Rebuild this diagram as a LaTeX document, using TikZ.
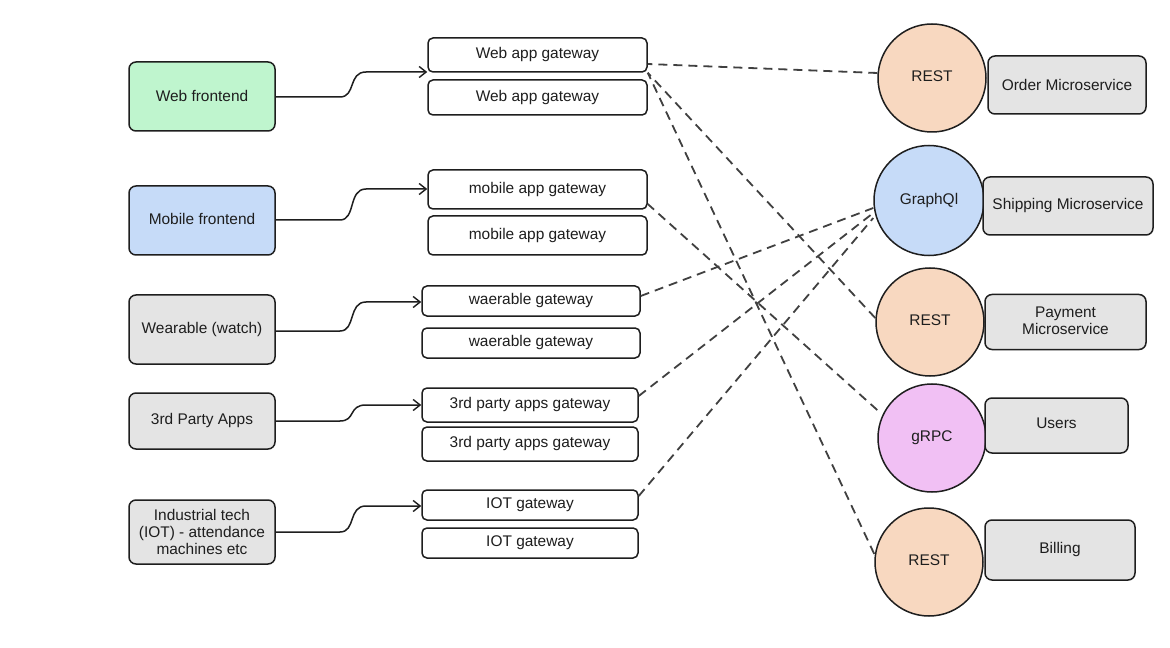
\documentclass[tikz,border=0pt]{standalone}
\usepackage{fontspec}
\setmainfont{Liberation Sans}
\usetikzlibrary{arrows.meta,calc}
\definecolor{ink}{HTML}{1E1E1E}
\definecolor{cgreen}{HTML}{BFF5CE}
\definecolor{cblue}{HTML}{C6DBF8}
\definecolor{cgrey}{HTML}{E4E4E4}
\definecolor{cpeach}{HTML}{F8D8C0}
\definecolor{cpink}{HTML}{F1C0F4}
\tikzset{
  box/.style={draw=ink,line width=1.5bp,rounded corners=7bp,align=center,inner sep=0pt,font=\fontsize{15.5}{17.5}\selectfont,text=ink},
  gw/.style={box,fill=white,rounded corners=5bp},
  circ/.style={draw=ink,line width=1.5bp,circle,inner sep=0pt,font=\fontsize{15.5}{17.5}\selectfont,text=ink},
  solidarrow/.style={draw=ink,line width=1.5bp,-{Straight Barb[length=7bp,width=11bp,line width=1.4bp]}},
  dashlink/.style={draw=ink!85,line width=1.8bp,dash pattern=on 9bp off 6bp}
}
\begin{document}
\begin{tikzpicture}[x=1bp,y=-1bp]
\path[use as bounding box,fill=white] (0,0) rectangle (1170,648);
% clients
\node[box,fill=cgreen,minimum width=146bp,minimum height=69bp] (web) at (202,96.5) {\raisebox{2bp}{Web frontend}};
\node[box,fill=cblue,minimum width=146bp,minimum height=69bp] (mob) at (202,220.5) {\raisebox{3bp}{Mobile frontend}};
\node[box,fill=cgrey,minimum width=146bp,minimum height=69bp] (wear) at (202,329.5) {\raisebox{3bp}{Wearable (watch)}};
\node[box,fill=cgrey,minimum width=146bp,minimum height=56bp] (third) at (202,421) {\raisebox{3bp}{3rd Party Apps}};
\node[box,fill=cgrey,minimum width=146bp,minimum height=64bp] (iot) at (202,532) {Industrial tech\\(IOT) - attendance\\machines etc};
% gateways
\node[gw,minimum width=219bp,minimum height=34bp] (gwa) at (537.5,55) {\raisebox{2bp}{Web app gateway}};
\node[gw,minimum width=219bp,minimum height=35bp] (gwb) at (537.5,97.5) {\raisebox{2bp}{Web app gateway}};
\node[gw,minimum width=219bp,minimum height=39bp] (gma) at (537.5,189.5) {\raisebox{2bp}{mobile app gateway}};
\node[gw,minimum width=219bp,minimum height=39bp] (gmb) at (537.5,235.5) {\raisebox{1bp}{mobile app gateway}};
\node[gw,minimum width=218bp,minimum height=30bp] (gwea) at (531,301) {\raisebox{2bp}{waerable gateway}};
\node[gw,minimum width=218bp,minimum height=30bp] (gweb) at (531,343) {\raisebox{2bp}{waerable gateway}};
\node[gw,minimum width=216bp,minimum height=34bp] (gta) at (530,405) {\raisebox{2bp}{3rd party apps gateway}};
\node[gw,minimum width=216bp,minimum height=34bp] (gtb) at (530,444) {\raisebox{2bp}{3rd party apps gateway}};
\node[gw,minimum width=216bp,minimum height=30bp] (gia) at (530,505) {\raisebox{2bp}{IOT gateway}};
\node[gw,minimum width=216bp,minimum height=30bp] (gib) at (530,543) {\raisebox{2bp}{IOT gateway}};
% protocol circles
\node[circ,fill=cpeach,minimum size=108bp] (r1) at (932,78) {\raisebox{3bp}{REST}};
\node[circ,fill=cblue,minimum size=110bp] (gq) at (929,200.5) {\raisebox{3bp}{GraphQl}};
\node[circ,fill=cpeach,minimum size=108bp] (r2) at (930,322) {\raisebox{3bp}{REST}};
\node[circ,fill=cpink,minimum size=108bp] (gr) at (932,438) {gRPC};
\node[circ,fill=cpeach,minimum size=108bp] (r3) at (929,562) {\raisebox{3bp}{REST}};
% services
\node[box,fill=cgrey,minimum width=158bp,minimum height=58bp] (order) at (1067,85) {Order Microservice};
\node[box,fill=cgrey,minimum width=170bp,minimum height=58bp] (ship) at (1068,206) {Shipping Microservice};
\node[box,fill=cgrey,minimum width=161bp,minimum height=55bp] (pay) at (1065.5,322) {\raisebox{3bp}{\shortstack{Payment\\Microservice}}};
\node[box,fill=cgrey,minimum width=143bp,minimum height=55bp] (users) at (1056.5,425.5) {\raisebox{4bp}{Users}};
\node[box,fill=cgrey,minimum width=150bp,minimum height=60bp] (bill) at (1060,550) {\raisebox{4bp}{Billing}};
% solid arrows
\foreach \src/\dst/\sy/\dy in {web/gwa/97/72, mob/gma/220/189, wear/gwea/331/302, third/gta/421/405, iot/gia/532/506}{
  \draw[solidarrow] (\src.east |- 0,\sy) -- (340,\sy) .. controls (356,\sy) and (348,\dy) .. (366,\dy) -- (\dst.west |- 0,\dy);
}
% dashed links
\draw[dashlink] (r1.west |- 0,73) -- (gwa.east |- 0,64);
\draw[dashlink] (r2.west |- 0,318) -- (gwa.south east);
\draw[dashlink] (r3.west |- 0,554) -- (gwa.south east);
\draw[dashlink] (gr.west |- 0,410) -- (gma.east |- 0,204);
\draw[dashlink] (gwea.east |- 0,296) -- (gq.west |- 0,208);
\draw[dashlink] (gta.east |- 0,396) -- (gq.west |- 0,213);
\draw[dashlink] (gia.east |- 0,496) -- (gq.west |- 0,218);
\end{tikzpicture}
\end{document}
